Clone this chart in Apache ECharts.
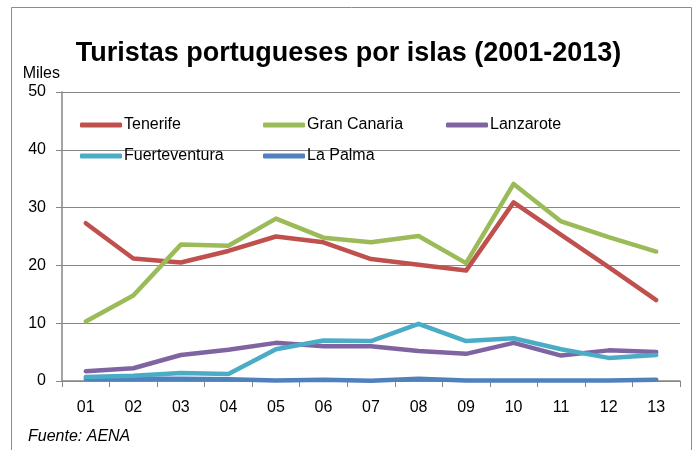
<!DOCTYPE html>
<html>
<head>
<meta charset="utf-8">
<script src="https://cdn.jsdelivr.net/npm/echarts@6/dist/echarts.min.js"></script>
<style>
  html, body { margin: 0; padding: 0; background: #fff; }
  #chart { width: 697px; height: 450px; }
</style>
</head>
<body>
<div id="chart"></div>
<script>
// años 2001-2013
var years = ['01', '02', '03', '04', '05', '06', '07', '08', '09', '10', '11', '12', '13'];

// miles de turistas
var tenerife = [27.3, 21.2, 20.5, 22.5, 25.0, 24.0, 21.1, 20.1, 19.1, 30.9, 25.3, 19.7, 14.0];
var granCanaria = [10.3, 14.8, 23.6, 23.4, 28.1, 24.8, 24.0, 25.1, 20.4, 34.1, 27.6, 24.9, 22.4];
var lanzarote = [1.7, 2.2, 4.5, 5.4, 6.6, 6.0, 6.0, 5.2, 4.7, 6.6, 4.4, 5.3, 5.0];
var fuerteventura = [0.7, 0.9, 1.4, 1.2, 5.5, 7.0, 6.9, 9.9, 6.9, 7.4, 5.5, 4.0, 4.5];
var laPalma = [0.4, 0.4, 0.4, 0.3, 0.1, 0.2, 0.05, 0.4, 0.1, 0.1, 0.1, 0.1, 0.2];

var yTicks = [0, 10, 20, 30, 40, 50];

var chart = echarts.init(document.getElementById('chart'));

var font = 'Liberation Sans';
var grey = '#868686';

function mkSeries(name, data, color) {
  return {
    name: name,
    type: 'line',
    data: data,
    symbol: 'none',
    smooth: false,
    lineStyle: { color: color, width: 4.5, cap: 'round', join: 'round' },
    itemStyle: { color: color },
    animation: false
  };
}

function mkLegend(name, left, top) {
  return {
    data: [{ name: name, icon: 'roundRect' }],
    left: left,
    top: top,
    itemWidth: 42,
    itemHeight: 5,
    itemGap: 0,
    padding: 0,
    textStyle: { fontFamily: font, fontSize: 16, color: '#000', padding: [0, 0, 0, -3] },
    selectedMode: false
  };
}

var option = {
  backgroundColor: '#fff',
  title: {
    text: 'Turistas portugueses por islas (2001-2013)',
    left: 'center',
    top: 35,
    textStyle: { fontFamily: font, fontSize: 27, fontWeight: 'bold', color: '#000' }
  },
  grid: { left: 62, right: 17, top: 92, bottom: 69 },
  legend: [
    mkLegend('Tenerife', 80, 117),
    mkLegend('Gran Canaria', 263, 117),
    mkLegend('Lanzarote', 446, 117),
    mkLegend('Fuerteventura', 80, 148),
    mkLegend('La Palma', 263, 148)
  ],
  xAxis: {
    type: 'category',
    data: years,
    boundaryGap: true,
    axisLine: { lineStyle: { color: grey, width: 1.5 } },
    axisTick: { show: true, length: 6, alignWithLabel: false, lineStyle: { color: grey } },
    axisLabel: { fontFamily: font, fontSize: 16, color: '#000', margin: 19 },
    splitLine: { show: false }
  },
  yAxis: {
    type: 'value',
    min: yTicks[0],
    max: yTicks[yTicks.length - 1],
    interval: 10,
    name: 'Miles',
    nameLocation: 'end',
    nameGap: 10,
    nameTextStyle: { fontFamily: font, fontSize: 16, color: '#000', align: 'right', padding: [0, 2, 0, 0] },
    axisLine: { show: true, lineStyle: { color: grey, width: 1.5 } },
    axisTick: { show: true, length: 6, lineStyle: { color: grey } },
    axisLabel: { fontFamily: font, fontSize: 16, color: '#000', margin: 16 },
    splitLine: { show: true, lineStyle: { color: grey, width: 1.2 } }
  },
  graphic: [
    {
      type: 'rect',
      shape: { x: 11.5, y: 7.5, width: 680, height: 460 },
      style: { fill: 'none', stroke: '#8c8c8c', lineWidth: 1 },
      silent: true
    },
    {
      type: 'text',
      left: 28,
      top: 429,
      style: { text: 'Fuente: AENA', fontFamily: font, fontSize: 16, fontStyle: 'italic', fill: '#000' }
    }
  ],
  series: [
    mkSeries('La Palma', laPalma, '#4F81BD'),
    mkSeries('Lanzarote', lanzarote, '#8064A2'),
    mkSeries('Fuerteventura', fuerteventura, '#4BACC6'),
    mkSeries('Tenerife', tenerife, '#C0504D'),
    mkSeries('Gran Canaria', granCanaria, '#9BBB59')
  ]
};

chart.setOption(option);
</script>
</body>
</html>
